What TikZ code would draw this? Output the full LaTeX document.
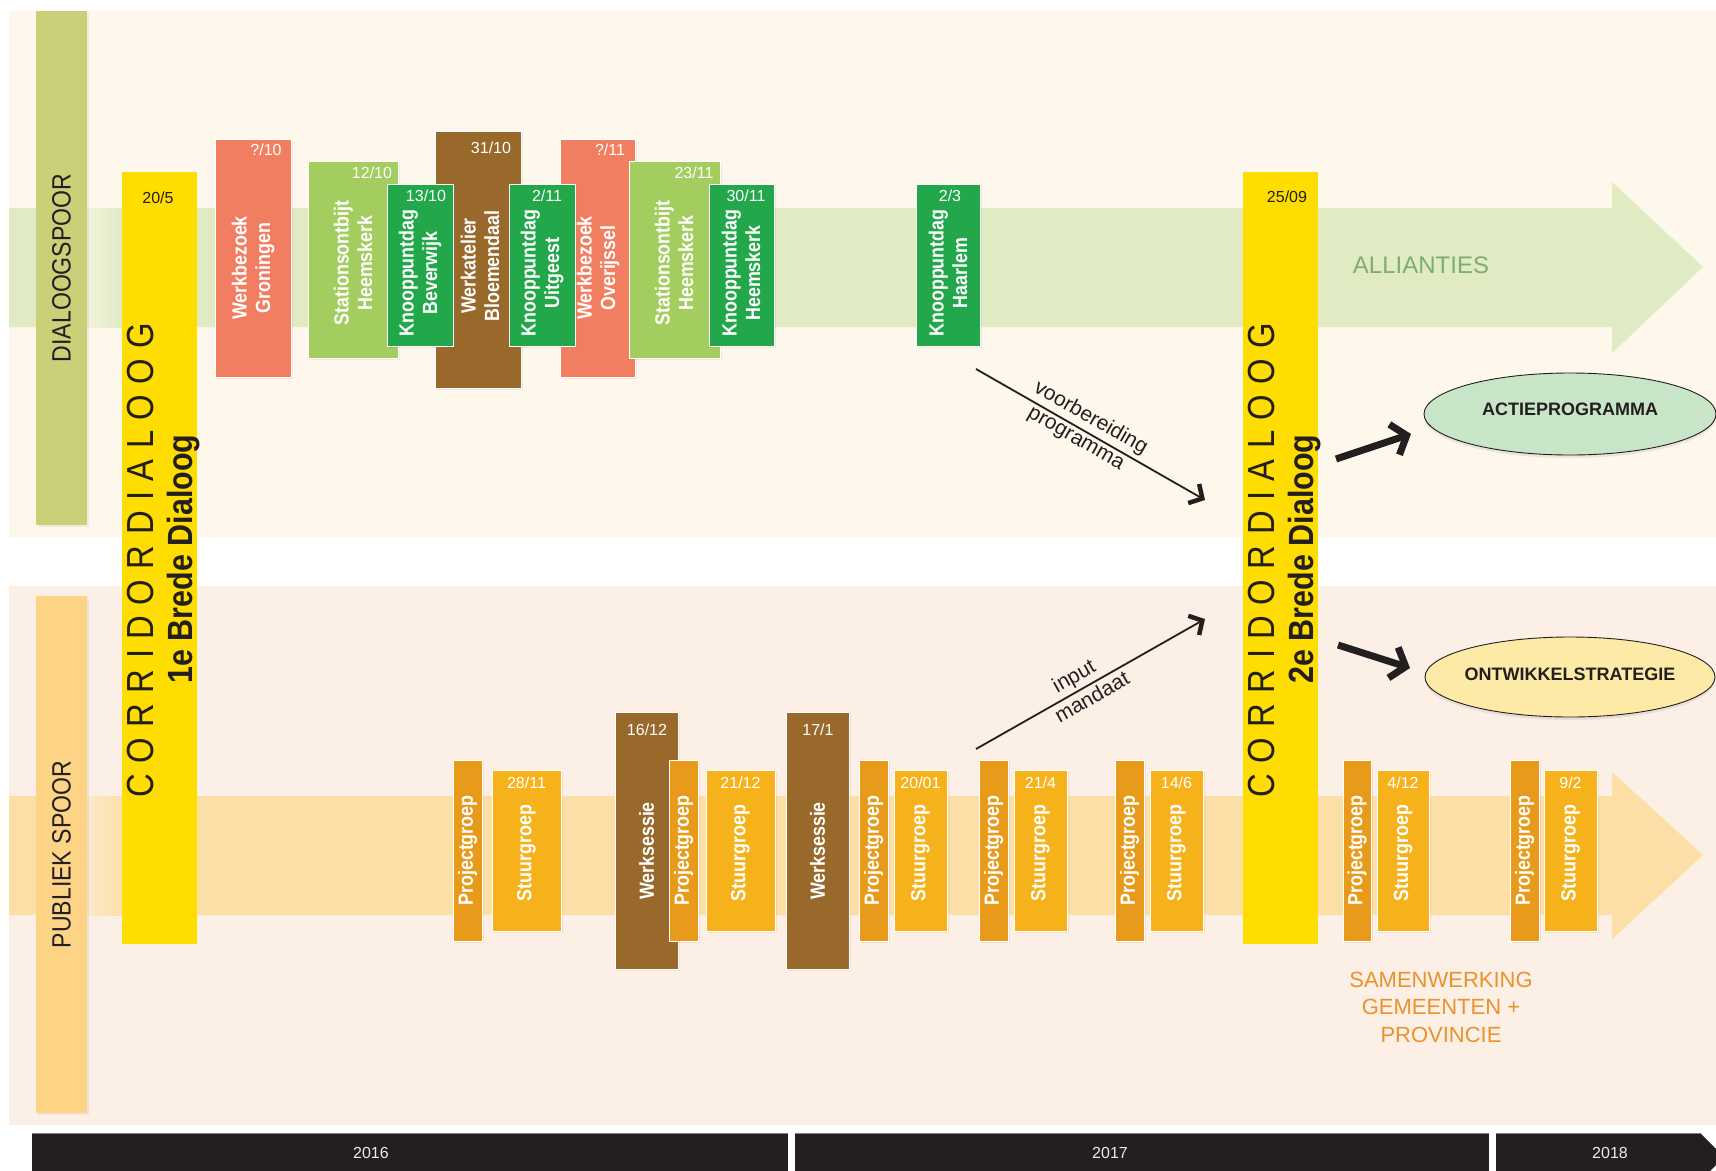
\documentclass[tikz,border=0pt]{standalone}
\usepackage{fontspec}
\setmainfont{Liberation Sans}
\newfontfamily\condfont[FakeStretch=0.87]{Liberation Sans}
\usetikzlibrary{arrows.meta,calc,fit,shadows,shapes.geometric}

\definecolor{ink}{HTML}{231F20}
\definecolor{toppanel}{HTML}{FDF7EC}
\definecolor{botpanel}{HTML}{FCEFE5}
\definecolor{dialbarc}{HTML}{C9D077}
\definecolor{publbarc}{HTML}{FDD386}
\definecolor{dialband}{HTML}{E0EBC3}
\definecolor{publband}{HTML}{FCDFA6}
\definecolor{corryellow}{HTML}{FFDD00}
\definecolor{salmon}{HTML}{F27E61}
\definecolor{lightgreen}{HTML}{A3CD5F}
\definecolor{knoopgreen}{HTML}{22A74A}
\definecolor{brownbox}{HTML}{98692B}
\definecolor{projorange}{HTML}{E89B1A}
\definecolor{stuurorange}{HTML}{F6B21A}
\definecolor{actiefill}{HTML}{C9E5C8}
\definecolor{ontwfill}{HTML}{FDEAA6}
\definecolor{alliantiegreen}{HTML}{7DAE6E}
\definecolor{samenorange}{HTML}{EA922C}

\newcommand{\corridortxt}{C\kern10.5pt O\kern10.5pt R\kern10.5pt R\kern10.5pt I\kern10.5pt D\kern10.5pt O\kern10.5pt R\kern10.5pt D\kern10.5pt I\kern10.5pt A\kern10.5pt L\kern10.5pt O\kern10.5pt O\kern10.5pt G}

\tikzset{
  evbox/.style={rectangle, inner sep=0pt, draw=white, line width=0.9pt,
    drop shadow={shadow xshift=1.5pt, shadow yshift=-1.5pt, opacity=0.12}},
  evlbl/.style={rotate=90, align=center, text=white, inner sep=0pt,
    font=\condfont\bfseries\fontsize{20.5}{23.5}\selectfont},
  datelbl/.style={anchor=base, text=white, inner sep=0pt, font=\fontsize{16}{19}\selectfont},
  trackbar/.style={rectangle, inner sep=0pt,
    drop shadow={shadow xshift=2pt, shadow yshift=-2pt, opacity=0.10}},
  tracklbl/.style={rotate=90, text=ink, inner sep=0pt, font=\condfont\fontsize{26.5}{30}\selectfont},
  corrbar/.style={rectangle, inner sep=0pt, fill=corryellow},
  corrlbl/.style={rotate=90, anchor=base, text=ink, inner sep=0pt, font=\condfont\fontsize{37.7}{40}\selectfont},
  bredelbl/.style={rotate=90, anchor=base, text=ink, inner sep=0pt, font=\condfont\bfseries\fontsize{35}{40}\selectfont},
  thinarrow/.style={draw=ink, line width=1.8pt, -{Straight Barb[length=10pt, width=22pt, line width=4.5pt]}},
  thickarrow/.style={draw=ink, line width=7pt, -{Straight Barb[length=13pt, width=32pt, line width=7pt]}},
  arrowlbl/.style={text=ink, font=\fontsize{21}{25}\selectfont},
  ellbox/.style={ellipse, draw=ink, line width=0.9pt, inner sep=0pt,
    drop shadow={shadow xshift=0pt, shadow yshift=-3pt, opacity=0.15}},
  elltxt/.style={text=ink, font=\bfseries\fontsize{18}{21}\selectfont},
  yearbar/.style={rectangle, inner sep=0pt, fill=ink},
  yearlbl/.style={text=white!92!black, font=\fontsize{16}{19}\selectfont},
}

\begin{document}
\begin{tikzpicture}[x=1pt,y=-1pt]
\useasboundingbox (0,0) rectangle (1716,1170);
\clip (0,0) rectangle (1716,1170);

% background panels of the two tracks
\fill[toppanel] (9,11) rectangle (1716,537);
\fill[botpanel] (9,586) rectangle (1716,1125);

% arrow bands
\fill[dialband] (9,208) -- (1612,208) -- (1612,182) -- (1703,267) -- (1612,353) -- (1612,327) -- (9,327) -- cycle;
\fill[publband] (9,796) -- (1612,796) -- (1612,772) -- (1703,855) -- (1612,939) -- (1612,915) -- (9,915) -- cycle;
\shade[left color=dialband!40!toppanel, right color=dialband] (87,208) rectangle (124,327);
\shade[left color=publband!40!botpanel, right color=publband] (87,796) rectangle (124,915);

% track title bars
\node[trackbar, fill=dialbarc, fit={(36,11) (87,525)}] (dialbar) {};
\node[tracklbl] at (dialbar.center) {DIALOOGSPOOR};
\node[trackbar, fill=publbarc, fit={(36,596) (87,1113)}] (publbar) {};
\node[tracklbl] at (publbar.center) {PUBLIEK SPOOR};

% the two broad dialogues
\node[corrbar, fit={(122,172) (197,944)}] (brede1) {};
\node[datelbl, text=ink] at (158,203) {20/5};
\node[corrlbl] at (153,560) {\corridortxt};
\node[bredelbl] at (192,559) {1e Brede Dialoog};

\node[corrbar, fit={(1243,172) (1318,944)}] (brede2) {};
\node[datelbl, text=ink] at (1287,202) {25/09};
\node[corrlbl] at (1274,560) {\corridortxt};
\node[bredelbl] at (1313,559) {2e Brede Dialoog};

% dialogue track events
\node[evbox, fill=salmon, fit={(215,139) (291,377)}] (wbgron) {};
\node[datelbl] at (266,155) {?/10};
\node[evlbl] at (253,268) {Werkbezoek\\Groningen};

\node[evbox, fill=lightgreen, fit={(308,161) (398,358)}] (sobheem1) {};
\node[datelbl] at (372,178) {12/10};
\node[evlbl] at (353,263) {Stationsontbijt\\Heemskerk};

\node[evbox, fill=brownbox, fit={(435,131) (521,388)}] (wabloem) {};
\node[datelbl] at (491,153) {31/10};
\node[evlbl] at (480,266) {Werkatelier\\Bloemendaal};

\node[evbox, fill=knoopgreen, fit={(387,184) (453,346)}] (kpbever) {};
\node[datelbl] at (426,201) {13/10};
\node[evlbl] at (420,273) {Knooppuntdag\\Beverwijk};

\node[evbox, fill=salmon, fit={(560,139) (635,377)}] (wbover) {};
\node[datelbl] at (610,155) {?/11};
\node[evlbl] at (598,268) {Werkbezoek\\Overijssel};

\node[evbox, fill=knoopgreen, fit={(509,184) (575,346)}] (kpuitg) {};
\node[datelbl] at (547,201) {2/11};
\node[evlbl] at (542,273) {Knooppuntdag\\Uitgeest};

\node[evbox, fill=lightgreen, fit={(629,161) (720,358)}] (sobheem2) {};
\node[datelbl] at (694,178) {23/11};
\node[evlbl] at (674,263) {Stationsontbijt\\Heemskerk};

\node[evbox, fill=knoopgreen, fit={(709,184) (774,346)}] (kpheem) {};
\node[datelbl] at (746,201) {30/11};
\node[evlbl] at (741,273) {Knooppuntdag\\Heemskerk};

\node[evbox, fill=knoopgreen, fit={(916,184) (980,346)}] (kphaar) {};
\node[datelbl] at (950,201) {2/3};
\node[evlbl] at (948,273) {Knooppuntdag\\Haarlem};

% public track events
\node[evbox, fill=projorange, fit={(453,760) (482,941)}] (pg1) {};
\node[evlbl] at (pg1.center) {Projectgroep};
\node[evbox, fill=stuurorange, fit={(492,770) (561,931)}] (sg1) {};
\node[datelbl] at (526.5,788) {28/11};
\node[evlbl] at (526.5,853) {Stuurgroep};

\node[evbox, fill=brownbox, fit={(615,712) (678,969)}] (ws1) {};
\node[datelbl] at (647,735) {16/12};
\node[evlbl] at (646.5,851) {Werksessie};
\node[evbox, fill=projorange, fit={(669,760) (698,941)}] (pg2) {};
\node[evlbl] at (pg2.center) {Projectgroep};
\node[evbox, fill=stuurorange, fit={(706,770) (775,931)}] (sg2) {};
\node[datelbl] at (740.5,788) {21/12};
\node[evlbl] at (740.5,853) {Stuurgroep};

\node[evbox, fill=brownbox, fit={(786,712) (849,969)}] (ws2) {};
\node[datelbl] at (818,735) {17/1};
\node[evlbl] at (817.5,851) {Werksessie};
\node[evbox, fill=projorange, fit={(859,760) (888,941)}] (pg3) {};
\node[evlbl] at (pg3.center) {Projectgroep};
\node[evbox, fill=stuurorange, fit={(894,770) (947,931)}] (sg3) {};
\node[datelbl] at (920.5,788) {20/01};
\node[evlbl] at (920.5,853) {Stuurgroep};

\node[evbox, fill=projorange, fit={(979,760) (1008,941)}] (pg4) {};
\node[evlbl] at (pg4.center) {Projectgroep};
\node[evbox, fill=stuurorange, fit={(1014,770) (1067,931)}] (sg4) {};
\node[datelbl] at (1040.5,788) {21/4};
\node[evlbl] at (1040.5,853) {Stuurgroep};

\node[evbox, fill=projorange, fit={(1115,760) (1144,941)}] (pg5) {};
\node[evlbl] at (pg5.center) {Projectgroep};
\node[evbox, fill=stuurorange, fit={(1150,770) (1203,931)}] (sg5) {};
\node[datelbl] at (1176.5,788) {14/6};
\node[evlbl] at (1176.5,853) {Stuurgroep};

\node[evbox, fill=projorange, fit={(1343,760) (1371,941)}] (pg6) {};
\node[evlbl] at (pg6.center) {Projectgroep};
\node[evbox, fill=stuurorange, fit={(1377,770) (1429,931)}] (sg6) {};
\node[datelbl] at (1403,788) {4/12};
\node[evlbl] at (1403,853) {Stuurgroep};

\node[evbox, fill=projorange, fit={(1510,760) (1539,941)}] (pg7) {};
\node[evlbl] at (pg7.center) {Projectgroep};
\node[evbox, fill=stuurorange, fit={(1544,770) (1597,931)}] (sg7) {};
\node[datelbl] at (1570.5,788) {9/2};
\node[evlbl] at (1570.5,853) {Stuurgroep};

% track captions
\node[text=alliantiegreen, font=\fontsize{24}{28}\selectfont] (allianties) at (1421,265) {ALLIANTIES};
\node[text=samenorange, align=center, font=\fontsize{22}{27.5}\selectfont] (samenwerking) at (1441,1007) {SAMENWERKING\\GEMEENTEN +\\PROVINCIE};

% results
\node[ellbox, fill=actiefill, minimum width=292pt, minimum height=82pt] (actie) at (1570,414) {};
\node[elltxt] at ([yshift=5pt]actie.center) {ACTIEPROGRAMMA};
\node[ellbox, fill=ontwfill, minimum width=290pt, minimum height=80pt] (ontw) at (1570,677) {};
\node[elltxt] at ([yshift=3pt]ontw.center) {ONTWIKKELSTRATEGIE};

% flows into the second broad dialogue
\coordinate (vbstart) at (976,369);
\coordinate (vbend) at (1205,500);
\draw[thinarrow] (vbstart) -- (vbend)
  node[pos=0.47, above, sloped, arrowlbl, inner sep=3.5pt] {voorbereiding}
  node[pos=0.46, below, sloped, arrowlbl, inner sep=4pt] {programma};
\coordinate (imstart) at (976,749);
\coordinate (imend) at (1205,619);
\draw[thinarrow] (imstart) -- (imend)
  node[pos=0.46, above, sloped, arrowlbl, inner sep=3pt] {input}
  node[pos=0.48, below, sloped, arrowlbl, inner sep=3pt] {mandaat};

% outcomes of the second broad dialogue
\coordinate (ta1s) at (1336,459);
\coordinate (ta1e) at (1411,434);
\draw[thickarrow] (ta1s) -- (ta1e);
\coordinate (ta2s) at (1338,645);
\coordinate (ta2e) at (1410,668);
\draw[thickarrow] (ta2s) -- (ta2e);

% year axis
\node[yearbar, fit={(32,1133) (788,1180)}] (y2016) {};
\node[yearlbl] at (371,1153) {2016};
\node[yearbar, fit={(795,1133) (1489,1180)}] (y2017) {};
\node[yearlbl] at (1110,1153) {2017};
\fill[ink] (1496,1133) -- (1700,1133) -- (1724,1157) -- (1700,1181) -- (1496,1181) -- cycle;
\node[yearlbl] at (1610,1153) {2018};
\draw[gray, line width=0.8pt] (32,1133.4) -- (788,1133.4) (795,1133.4) -- (1489,1133.4) (1496,1133.4) -- (1700,1133.4);
\end{tikzpicture}
\end{document}
